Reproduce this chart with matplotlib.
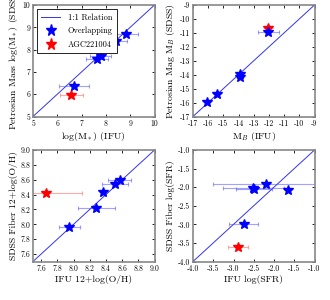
import matplotlib
matplotlib.use("Agg")
import matplotlib.pyplot as plt
import numpy as np

plt.rcParams['font.family'] = ['cmr10', 'DejaVu Serif']
plt.rcParams['mathtext.fontset'] = 'cm'
plt.rcParams['axes.formatter.use_mathtext'] = True
plt.rcParams['axes.unicode_minus'] = True

# stellar mass
mass_ifu = [6.67, 7.62, 7.78, 8.40, 8.84]
mass_sdss = [6.38, 7.57, 7.72, 8.39, 8.70]
mass_err = [0.62, 0.45, 0.42, 0.48, 0.49]
mass_red = (6.58, 5.96, 0.47)

# absolute B magnitude
mag_ifu = [-16.05, -15.40, -13.90, -13.90, -12.05]
mag_sdss = [-15.93, -15.38, -13.92, -14.17, -10.92]
mag_err = [0.0, 0.0, 0.0, 0.0, 0.68]
mag_red = (-12.05, -10.63, 0.0)

# metallicity
oh_ifu = [7.95, 8.28, 8.36, 8.51, 8.57]
oh_sdss = [7.97, 8.22, 8.44, 8.54, 8.59]
oh_err = [0.13, 0.23, 0.0, 0.16, 0.14]
oh_red = (7.66, 8.42, 0.44)

# star formation rate
sfr_ifu = [-2.75, -2.51, -2.49, -2.20, -1.65]
sfr_sdss = [-3.00, -2.03, -2.06, -1.92, -2.07]
sfr_err = [0.36, 0.75, 0.45, 1.30, 0.0]
sfr_red = (-2.88, -3.61, 0.25)

panels = [
    dict(x=mass_ifu, y=mass_sdss, e=mass_err, r=mass_red, lim=(5, 10),
         ticks=np.arange(5, 11, 1), fmt='%d',
         xl=r'log(M$_*$) (IFU)', yl=r'Petrosian Mass log(M$_*$) (SDSS)',
         pos=[33/330, 1-116.5/300, 121.5/330, 111.5/300]),
    dict(x=mag_ifu, y=mag_sdss, e=mag_err, r=mag_red, lim=(-17, -9),
         ticks=np.arange(-17, -8, 1), fmt='%d',
         xl=r'M$_B$ (IFU)', yl=r'Petrosian Mag M$_B$ (SDSS)',
         pos=[193/330, 1-116.5/300, 121.5/330, 111.5/300]),
    dict(x=oh_ifu, y=oh_sdss, e=oh_err, r=oh_red, lim=(7.5, 9.0),
         ticks=np.arange(7.6, 9.01, 0.2), fmt='%.1f',
         xl='IFU 12+log(O/H)', yl='SDSS Fiber 12+log(O/H)',
         pos=[33/330, 1-261.5/300, 121.5/330, 111.5/300]),
    dict(x=sfr_ifu, y=sfr_sdss, e=sfr_err, r=sfr_red, lim=(-4.0, -1.0),
         ticks=np.arange(-4.0, -0.99, 0.5), fmt='%.1f',
         xl='IFU log(SFR)', yl='SDSS Fiber log(SFR)',
         pos=[193/330, 1-261.5/300, 121.5/330, 111.5/300]),
]

fig = plt.figure(figsize=(3.3, 3.0), dpi=100)

for i, p in enumerate(panels):
    ax = fig.add_axes(p['pos'])
    lo, hi = p['lim']
    ax.plot([lo, hi], [lo, hi], color='#3333ee', lw=0.7, label='1:1 Relation')
    ax.errorbar(p['x'], p['y'], xerr=p['e'], fmt='none', ecolor='#4444ff',
                alpha=0.5, elinewidth=0.8, capsize=1.5, capthick=0.8)
    rx, ry, re = p['r']
    if re > 0:
        ax.errorbar([rx], [ry], xerr=[re], fmt='none', ecolor='#ff5555',
                    alpha=0.5, elinewidth=0.8, capsize=1.5, capthick=0.8)
    else:
        ax.plot([rx - 0.3, rx + 0.3], [ry, ry], color='#ff8888', lw=0.8, alpha=0.6)
    ax.plot([rx], [ry], '*', color='red', ms=7, mec='red', label='AGC221004', zorder=4)
    ax.plot(p['x'], p['y'], '*', color='blue', ms=7, mec='blue', ls='none',
            label='Overlapping', zorder=5)
    ax.set_xlim(lo, hi)
    ax.set_ylim(lo, hi)
    ax.set_xticks(p['ticks'])
    ax.set_yticks(p['ticks'])
    ax.set_xticklabels([p['fmt'] % t for t in p['ticks']])
    ax.set_yticklabels([p['fmt'] % t for t in p['ticks']])
    ax.tick_params(direction='in', length=2, width=0.6, labelsize=5.5, pad=2,
                   top=True, right=True)
    for s in ax.spines.values():
        s.set_color('#888888')
        s.set_linewidth(1.2)
    ax.set_xlabel(p['xl'], fontsize=7, labelpad=2)
    ax.set_ylabel(p['yl'], fontsize=7, labelpad=2)
    if i == 0:
        h, l = ax.get_legend_handles_labels()
        order = [0, 2, 1]
        leg = ax.legend([h[k] for k in order], [l[k] for k in order],
                        loc='upper left', fontsize=6, fancybox=False,
                        edgecolor='black', framealpha=1, borderpad=0.5,
                        handlelength=2.2, labelspacing=0.6, markerscale=1.15,
                        handletextpad=1.0)
        leg.get_frame().set_linewidth(0.6)

fig.savefig('out.png', dpi=100)
